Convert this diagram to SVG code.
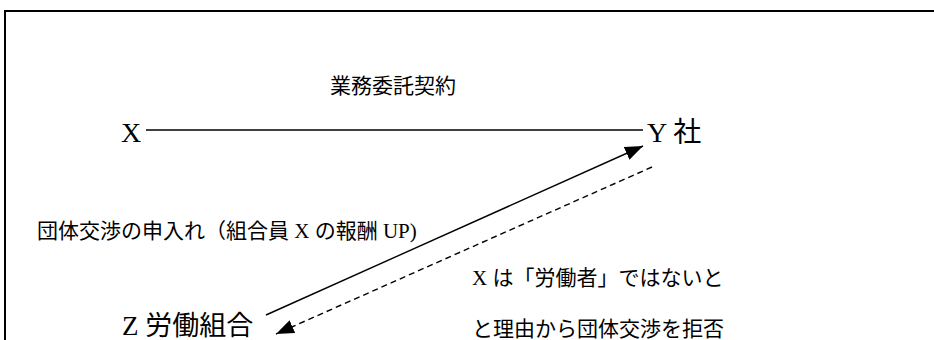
<svg xmlns="http://www.w3.org/2000/svg" width="934" height="340" viewBox="0 0 934 340">
<style>
  text { font-family: "Liberation Serif", "Noto Sans CJK JP", serif; fill: #000; }
  .big { font-size: 28px; }
  .mid { font-size: 27px; }
  .small { font-size: 21px; }
  .conn { stroke: #000; stroke-width: 1.4; fill: none; }
</style>
<defs>
  <marker id="arr" viewBox="0 0 18 14" refX="18" refY="7" markerWidth="18" markerHeight="14" markerUnits="userSpaceOnUse" orient="auto">
    <path d="M0,0 L18,7 L0,14 z" fill="#000"/>
  </marker>
</defs>
<rect width="934" height="340" fill="#fff"/>
<path d="M5,340 V11 H934" stroke="#000" stroke-width="2" fill="none"/>
<g id="connectors">
  <line class="conn" x1="146" y1="130" x2="643" y2="130" stroke="#444" stroke-width="1.6"/>
  <line class="conn" x1="266" y1="315" x2="643" y2="146" marker-end="url(#arr)"/>
  <line class="conn" x1="652" y1="167" x2="276" y2="334" stroke-dasharray="6,4" marker-end="url(#arr)"/>
</g>
<g id="label-contract"><text class="small" x="330" y="93">業務委託契約</text></g>
<g id="node-x"><text class="big" x="121" y="142">X</text></g>
<g id="node-y"><text class="big" x="647" y="142">Y 社</text></g>
<g id="label-request"><text class="small" x="37" y="238">団体交渉の申入れ（組合員 X の報酬 UP)</text></g>
<g id="label-refuse">
  <text class="small" x="472" y="285">X は「労働者」ではないと</text>
  <text class="small" x="472" y="336">と理由から団体交渉を拒否</text>
</g>
<g id="node-z"><text class="mid" x="122" y="335">Z 労働組合</text></g>
</svg>
